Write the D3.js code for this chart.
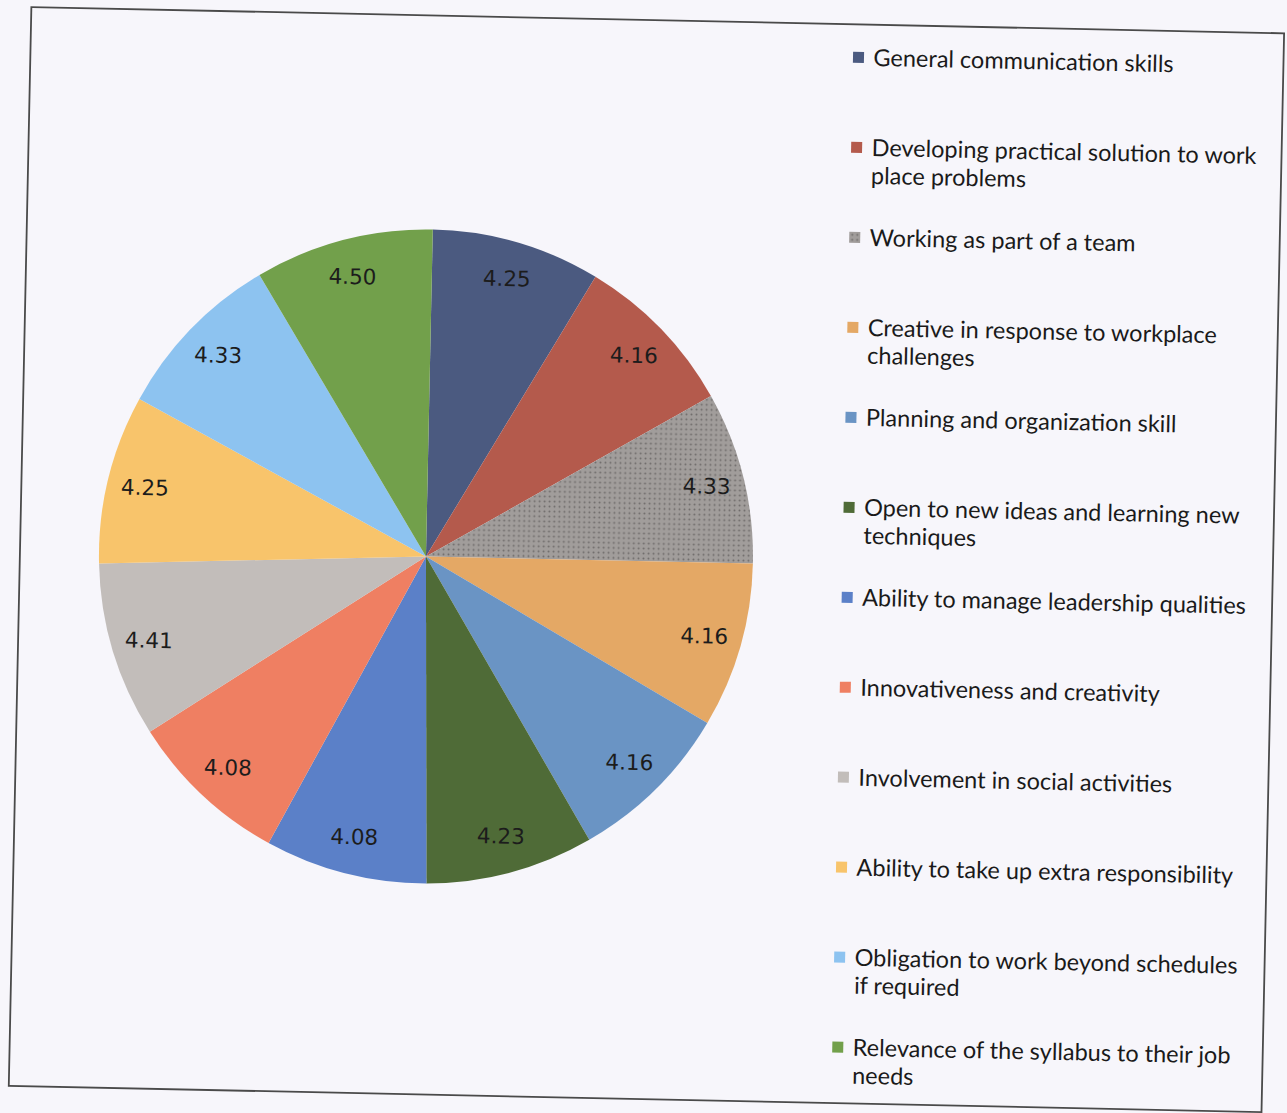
<!DOCTYPE html>
<html>
<head>
<meta charset="utf-8">
<script src="https://cdn.jsdelivr.net/npm/d3@7"></script>
<style>
  body { margin: 0; background: #f7f6fb; }
  svg { display: block; }
</style>
</head>
<body>
<div id="chart"></div>
<script>
const FRAME_WIDTH = 1287;
const FRAME_HEIGHT = 1113;
const TILT = 1.2; // the scanned page sits a bit crooked

// categories, in legend order (line breaks as in the original legend)
const CATEGORIES = [
  ["General communication skills"],
  ["Developing practical solution to work", "place problems"],
  ["Working as part of a team"],
  ["Creative in response to workplace", "challenges"],
  ["Planning and organization skill"],
  ["Open to new ideas and learning new", "techniques"],
  ["Ability to manage leadership qualities"],
  ["Innovativeness and creativity"],
  ["Involvement in social activities"],
  ["Ability to take up extra responsibility"],
  ["Obligation to work beyond schedules", "if required"],
  ["Relevance of the syllabus to their job", "needs"]
];

const VALUES = [4.25, 4.16, 4.33, 4.16, 4.16, 4.23, 4.08, 4.08, 4.41, 4.25, 4.33, 4.50];

const COLORS = ["#4b5a80", "#b45a4c", "#a19d9b", "#e4a865", "#6a94c4", "#4f6b37",
                "#5b80c8", "#ef7f62", "#c2bdba", "#f8c46b", "#8dc3f0", "#72a04b"];

const PIE_CX = 426, PIE_CY = 561, RADIUS = 327;
const LEGEND_X = 848, LEGEND_Y = 53, LEGEND_STEP = 90;

const SVG = d3.select("#chart")
  .append("svg")
    .attr("width", FRAME_WIDTH)
    .attr("height", FRAME_HEIGHT);

// dotted texture for the grey slice
const defs = SVG.append("defs");
const pat = defs.append("pattern")
    .attr("id", "dots")
    .attr("width", 5).attr("height", 5)
    .attr("patternUnits", "userSpaceOnUse");
pat.append("rect").attr("width", 5).attr("height", 5).attr("fill", COLORS[2]);
pat.append("circle").attr("cx", 2.5).attr("cy", 2.5).attr("r", 1).attr("fill", "#6f6c6b");

const fillFor = (i) => i === 2 ? "url(#dots)" : COLORS[i];

const ROOT = SVG.append("g")
    .attr("transform", "rotate(" + TILT + "," + (FRAME_WIDTH / 2) + "," + (FRAME_HEIGHT / 2) + ")");

// border of the chart area
ROOT.append("rect")
    .attr("x", 20).attr("y", 20)
    .attr("width", 1253).attr("height", 1079)
    .attr("fill", "none")
    .attr("stroke", "#4a4a4a")
    .attr("stroke-width", 1.8);

const pie = d3.pie().sort(null).value((d) => d);
const arcs = pie(VALUES);

const arc = d3.arc().innerRadius(0).outerRadius(RADIUS);
const labelArc = d3.arc().innerRadius(RADIUS * 0.885).outerRadius(RADIUS * 0.885);

const PIE_G = ROOT.append("g")
    .attr("transform", "translate(" + PIE_CX + "," + PIE_CY + ")");

PIE_G.selectAll("path")
  .data(arcs)
  .enter()
  .append("path")
    .attr("d", arc)
    .attr("fill", (d, i) => fillFor(i));

PIE_G.selectAll("text")
  .data(arcs)
  .enter()
  .append("text")
    .attr("x", (d) => labelArc.centroid(d)[0])
    .attr("y", (d) => labelArc.centroid(d)[1])
    .attr("text-anchor", "middle")
    .attr("dy", "0.35em")
    .attr("font-family", "DejaVu Sans, sans-serif")
    .attr("font-size", "21.5px")
    .attr("fill", "#1c1c1c")
    .text((d) => d.data.toFixed(2));

// legend
const LEGEND = ROOT.append("g");
const items = LEGEND.selectAll("g")
  .data(CATEGORIES)
  .enter()
  .append("g")
    .attr("transform", (d, i) => "translate(" + LEGEND_X + "," + (LEGEND_Y + i * LEGEND_STEP) + ")");

items.append("rect")
    .attr("x", -5.5).attr("y", -5.5)
    .attr("width", 11).attr("height", 11)
    .attr("fill", (d, i) => fillFor(i));

items.append("text")
    .attr("x", 15)
    .attr("y", 0)
    .attr("font-family", "Lato, sans-serif")
    .attr("font-size", "23.5px")
    .attr("fill", "#1a1a1a")
  .selectAll("tspan")
  .data((d) => d)
  .enter()
  .append("tspan")
    .attr("x", 15)
    .attr("dy", (d, j) => j === 0 ? "0.35em" : "28px")
    .text((d) => d);
</script>
</body>
</html>
